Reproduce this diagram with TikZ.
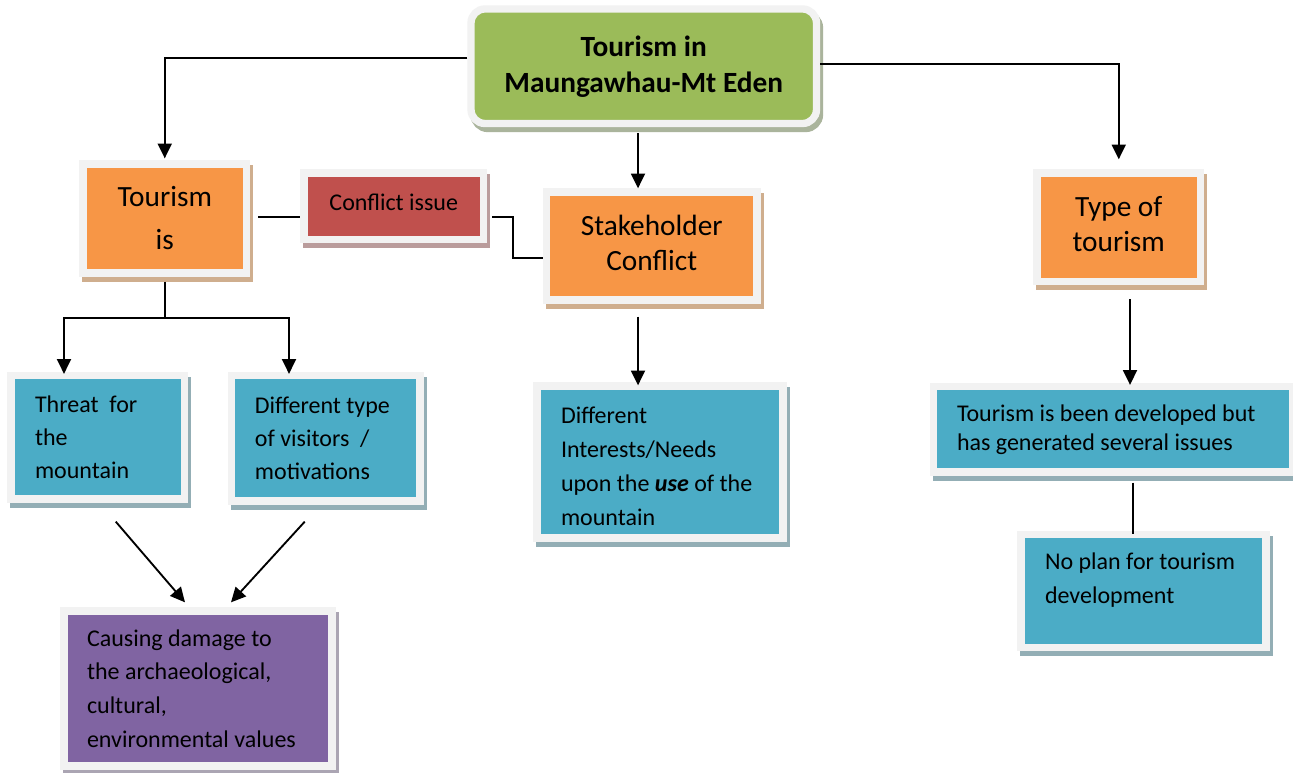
\documentclass[tikz,border=0pt]{standalone}
\usepackage{fontspec}
\setmainfont{Carlito}
\usetikzlibrary{arrows.meta,calc}

\definecolor{framegray}{HTML}{F2F2F2}
\definecolor{titlegreen}{HTML}{9BBB59}
\definecolor{titleshade}{HTML}{AAB49C}
\definecolor{boxorange}{HTML}{F79646}
\definecolor{orangeshade}{HTML}{CFAE8E}
\definecolor{boxred}{HTML}{C0504D}
\definecolor{redshade}{HTML}{BA9C9C}
\definecolor{boxblue}{HTML}{4BACC6}
\definecolor{blueshade}{HTML}{93AEB5}
\definecolor{boxpurple}{HTML}{8064A2}
\definecolor{purpleshade}{HTML}{ABA5B3}

\tikzset{
  panel/.style 2 args={rectangle, fill=#1, draw=framegray, line width=5.5pt,
    preaction={draw=#2, fill=#2, line width=5.5pt,
      transform canvas={shift={(2.25pt,-3.75pt)}}},
    inner ysep=0pt, text=black},
  lefttext/.style 2 args={align=flush left, text width=#1, inner xsep=#2},
  bodyfont/.style={font=\fontsize{18}{#1}\selectfont},
  headfont/.style={font=\fontsize{22}{#1}\selectfont},
  link/.style={black, line width=1.4pt},
  arrow/.style={link, -{Triangle[width=10.5pt,length=11pt]}},
}

\begin{document}
\begin{tikzpicture}[x=0.75pt, y=-0.75pt]
\fill[white] (0,0) rectangle (1293,773);
\useasboundingbox (0,0) rectangle (1293,773);

% heading
\node[panel={titlegreen}{titleshade}, rounded corners=10.5pt,
  minimum width=259.1pt, minimum height=85.9pt, align=center,
  font=\fontsize{22}{27}\selectfont\bfseries] (title) at (643.75,66.25)
  {Tourism in\\Maungawhau-Mt Eden};

% second level
\node[panel={boxorange}{orangeshade}, minimum width=122.6pt, minimum height=81.75pt,
  align=center, headfont=32.25] (tis) at (164.75,218.5) {Tourism\\is};
\node[panel={boxred}{redshade}, minimum width=134.6pt, minimum height=49.9pt,
  align=center, font=\fontsize{18}{22}\selectfont, text depth=6pt] (conf) at (393.75,206.25)
  {Conflict issue};
\node[panel={boxorange}{orangeshade}, minimum width=157.9pt, minimum height=81pt,
  align=center, headfont=26.25, text depth=5pt] (stake) at (651.75,246) {Stakeholder\\Conflict};
\node[panel={boxorange}{orangeshade}, minimum width=122.6pt, minimum height=81.4pt,
  align=center, headfont=26.25, text depth=5pt] (type) at (1118.75,227.25) {Type of\\tourism};

% third level
\node[panel={boxblue}{blueshade}, lefttext={94.1pt}{18pt}, minimum height=92.6pt,
  bodyfont=24.75] (threat) at (97.75,437.25) {Threat\ \ for\\the\\mountain};
\node[panel={boxblue}{blueshade}, lefttext={106.2pt}{17.6pt}, minimum height=94.1pt,
  bodyfont=24.75] (dtype) at (325.75,438.25) {Different type\\of visitors\ \ /\\motivations};
\node[panel={boxblue}{blueshade}, lefttext={148.5pt}{18pt}, minimum height=114pt,
  bodyfont=25.5, text height=19pt] (inter) at (660,462)
  {Different\\Interests/Needs\\upon the \textbf{\textit{use}} of the\\mountain};
\node[panel={boxblue}{blueshade}, lefttext={234pt}{17.6pt}, minimum height=64.1pt,
  bodyfont=21.75] (dev) at (1113,429.25)
  {Tourism is been developed but\\has generated several issues};

% fourth level
\node[panel={boxpurple}{purpleshade}, lefttext={166.5pt}{17.25pt}, minimum height=116.25pt,
  bodyfont=25.25] (purple) at (198,688.5)
  {Causing damage to\\the archaeological,\\cultural,\\environmental values};
\node[panel={boxblue}{blueshade}, lefttext={147.75pt}{18pt}, minimum height=84.75pt,
  text depth=45pt, bodyfont=25.5] (plan) at (1143.5,591)
  {No plan for tourism\\development};

% connectors from the heading
\draw[arrow, shorten >=1.5pt] (title.west |- 0,58) -| (tis.north);
\draw[arrow, shorten <=4.5pt] (title.south -| 638,0) -- (stake.north -| 638,0);
\draw[arrow, shorten >=7.5pt] (title.east |- 0,64) -| (type.north);

% conflict link
\draw[link, shorten <=6pt] (tis.east |- 0,217) -- (conf.west |- 0,217);
\draw[link, shorten <=3.75pt] (conf.east |- 0,217) -- ++(26,0) |- (stake.west |- 0,258);

% branches below "Tourism is"
\coordinate (split) at (tis.south |- 0,318);
\draw[link, shorten <=3.75pt] (tis.south) -- (split);
\draw[arrow, shorten >=-1.5pt] (split) -| (threat.north -| 64,0);
\draw[arrow, shorten >=-1.5pt] (split) -| (dtype.north -| 289,0);
\draw[arrow] ($(threat.south)+(18,19)$) -- ($(purple.north)+(-13,-5)$);
\draw[arrow] ($(dtype.south)+(-21,17)$) -- ($(purple.north)+(33,-5)$);

% remaining vertical links
\draw[arrow, shorten <=9.75pt, shorten >=-2.25pt] (stake.south -| 638,0) -- (inter.north -| 638,0);
\draw[arrow, shorten <=10.5pt, shorten >=-1.5pt] (type.south -| 1130,0) -- (dev.north -| 1130,0);
\draw[link, shorten <=5.25pt, shorten >=-2.25pt] (dev.south -| 1133,0) -- (plan.north -| 1133,0);
\end{tikzpicture}
\end{document}
